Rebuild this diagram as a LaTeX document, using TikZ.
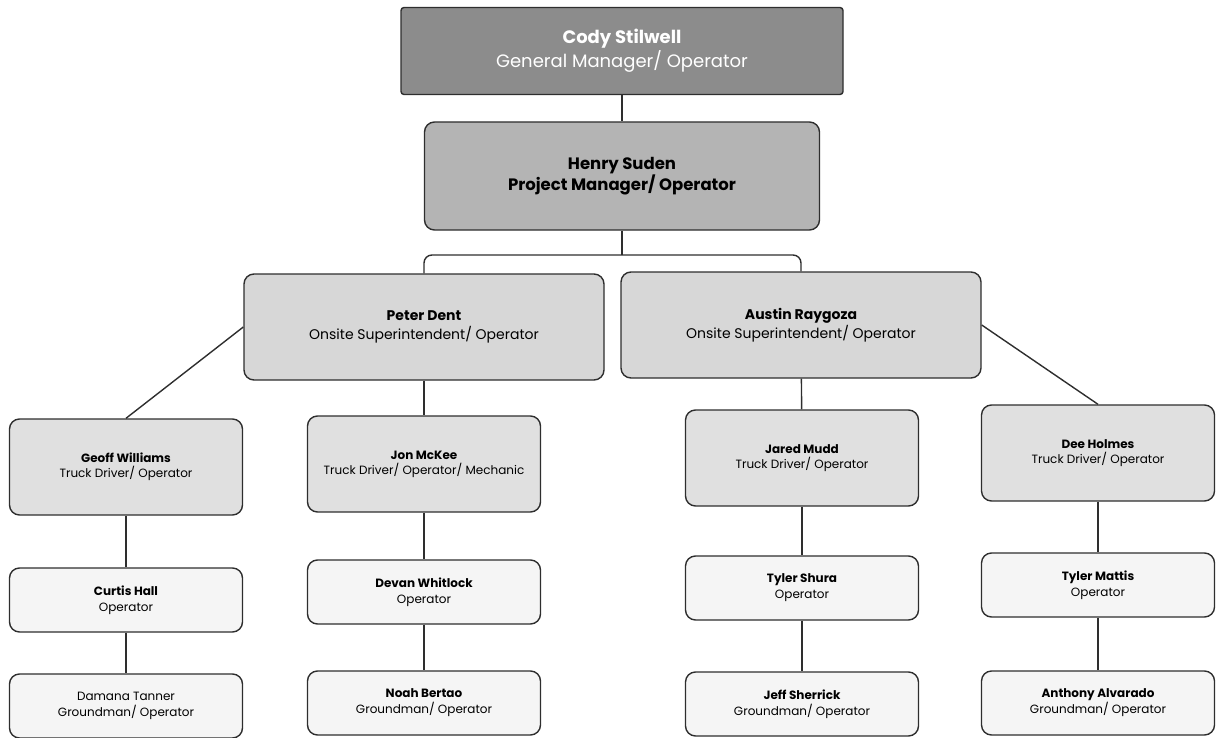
\documentclass[tikz,border=0pt]{standalone}
\usepackage{fontspec}
\setmainfont{Poppins}
\usetikzlibrary{positioning}
\definecolor{Ink}{HTML}{2E2E2E}
\definecolor{GMGray}{HTML}{8C8C8C}
\definecolor{PMGray}{HTML}{B4B4B4}
\definecolor{SupGray}{HTML}{D7D7D7}
\definecolor{LeadGray}{HTML}{E0E0E0}
\definecolor{CrewGray}{HTML}{F5F5F5}
\tikzset{card/.style={draw=Ink,line width=1.4pt,rounded corners=10pt,align=center,
  inner sep=2pt},
  gmbox/.style={card,fill=GMGray,text=white,rounded corners=3pt,minimum width=442pt,
    minimum height=87pt,font=\fontsize{18}{24}\selectfont},
  pmbox/.style={card,fill=PMGray,minimum width=395pt,minimum height=108pt,
    font=\fontsize{16.5}{21}\selectfont\bfseries},
  supbox/.style={card,fill=SupGray,minimum width=360pt,minimum height=106pt,
    font=\fontsize{14}{19}\selectfont},
  leadbox/.style={card,fill=LeadGray,minimum width=233pt,minimum height=96pt,
    font=\fontsize{12}{15}\selectfont},
  crewbox/.style={card,fill=CrewGray,minimum width=233pt,minimum height=64pt,
    font=\fontsize{12}{16}\selectfont},
  link/.style={draw=Ink,line width=1.4pt}}

\begin{document}
\begin{tikzpicture}[x=1pt,y=-1pt]
\useasboundingbox (0,0) rectangle (1217,738);
% top of the chart
\node[gmbox] (cody) at (622,51) {\textbf{Cody Stilwell}\\General Manager/ Operator};
\node[pmbox] (henry) at (622,176) {Henry Suden\\Project Manager/ Operator};
\node[supbox] (peter) at (424,327) {\textbf{Peter Dent}\\Onsite Superintendent/ Operator};
\node[supbox] (austin) at (801,325) {\textbf{Austin Raygoza}\\Onsite Superintendent/ Operator};
% truck drivers
\node[leadbox] (geoff) at (126,467) {\textbf{Geoff Williams}\\Truck Driver/ Operator};
\node[leadbox] (jon) at (424,464) {\textbf{Jon McKee}\\Truck Driver/ Operator/ Mechanic};
\node[leadbox] (jared) at (802,458) {\textbf{Jared Mudd}\\Truck Driver/ Operator};
\node[leadbox] (dee) at (1098,453) {\textbf{Dee Holmes}\\Truck Driver/ Operator};
% operators
\node[crewbox] (curtis) at (126,600) {\textbf{Curtis Hall}\\Operator};
\node[crewbox] (devan) at (424,592) {\textbf{Devan Whitlock}\\Operator};
\node[crewbox] (shura) at (802,588) {\textbf{Tyler Shura}\\Operator};
\node[crewbox] (mattis) at (1098,585) {\textbf{Tyler Mattis}\\Operator};
% groundmen
\node[crewbox] (damana) at (126,706) {Damana Tanner\\Groundman/ Operator};
\node[crewbox] (noah) at (424,703) {\textbf{Noah Bertao}\\Groundman/ Operator};
\node[crewbox] (jeff) at (802,704) {\textbf{Jeff Sherrick}\\Groundman/ Operator};
\node[crewbox] (anthony) at (1098,703) {\textbf{Anthony Alvarado}\\Groundman/ Operator};
% connectors
\coordinate (fork) at (622,255);
\draw[link] (cody) -- (henry);
\draw[link] (henry) -- (fork);
\draw[link,rounded corners=8pt] (peter.north) |- (fork) -| (austin.north);
\draw[link] (peter.west) -- (geoff.north);
\draw[link] (austin.east) -- (dee.north);
\draw[link] (peter) -- (jon);
\draw[link] (austin) -- (jared);
\draw[link] (geoff) -- (curtis);\draw[link] (curtis) -- (damana);
\draw[link] (jon) -- (devan);\draw[link] (devan) -- (noah);
\draw[link] (jared) -- (shura);\draw[link] (shura) -- (jeff);
\draw[link] (dee) -- (mattis);\draw[link] (mattis) -- (anthony);
\end{tikzpicture}
\end{document}
